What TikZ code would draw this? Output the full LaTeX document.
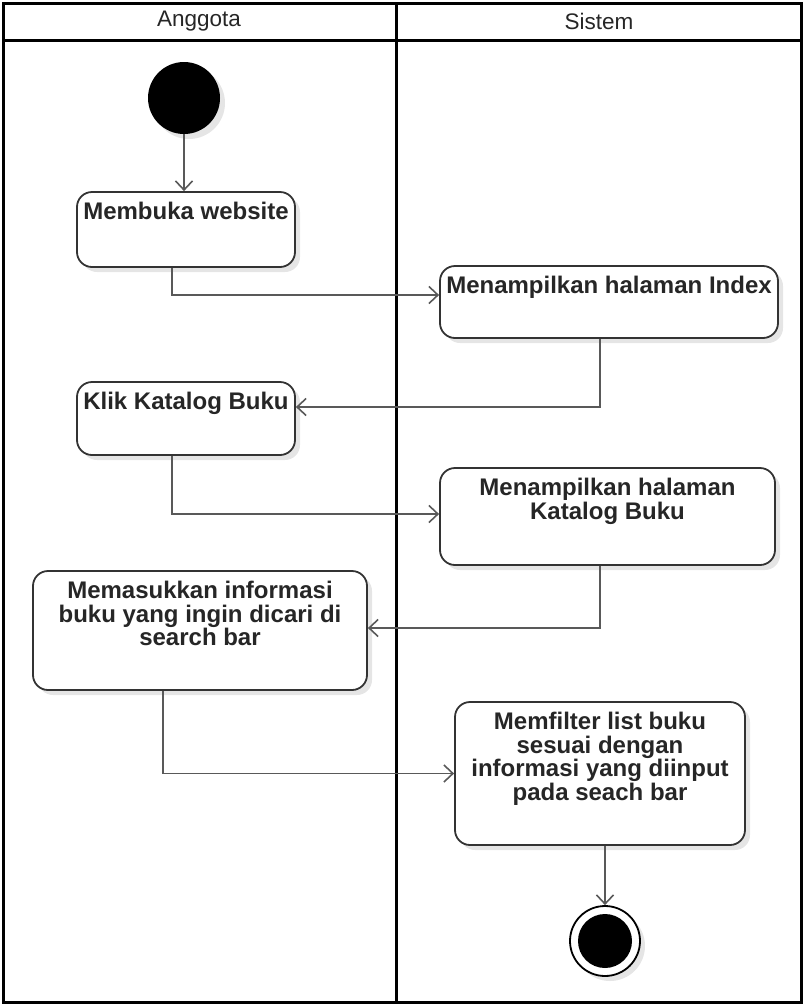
\documentclass[tikz,border=0pt]{standalone}
\usepackage{fontspec}
\setmainfont{Liberation Sans}
\usetikzlibrary{positioning, arrows.meta, shadows}

\begin{document}
\begin{tikzpicture}[
        x=1pt, y=-1pt,
        >={Straight Barb[length=9pt, width=17pt, line width=1.6pt]},
        lane/.style={line width=3pt, draw=black},
        title/.style={font=\fontsize{22.5}{26}\selectfont, text=black!85},
        activity/.style={rectangle, rounded corners=15pt, draw=black!80, line width=1.8pt, fill=white,
            drop shadow={shadow xshift=5pt, shadow yshift=-5pt, fill=black!10, opacity=1}},
        caption/.style={anchor=north, yshift=-11pt, align=center, inner sep=0pt,
            font=\bfseries\fontsize{24}{23.5}\selectfont, text=black!85},
        wire/.style={draw=black!65, line width=1.8pt, ->},
        startnode/.style={circle, fill=black, minimum size=72pt, inner sep=0pt,
            drop shadow={shadow xshift=5pt, shadow yshift=-5pt, fill=black!10, opacity=1}},
        endnode/.style={circle, draw=black, line width=1.8pt, fill=white, minimum size=70pt, inner sep=0pt,
            drop shadow={shadow xshift=5pt, shadow yshift=-5pt, fill=black!10, opacity=1},
            path picture={\fill[black] (path picture bounding box.center) circle (27pt);}},
    ]
    \useasboundingbox (0,0) rectangle (804,1005);

    % Draw the swimlanes
    \draw[lane] (3,3) rectangle (801,1002);
    \draw[lane] (3,40) -- (801,40);
    \draw[lane] (396,3) -- (396,1002);
    \node[title] (anggota) at (199,21) {Anggota};
    \node[title] (sistem) at (599,21) {Sistem};

    % Draw the start and end points
    \node[startnode] (start) at (184,98) {};
    \node[endnode] (end) at (605,941) {};

    % Draw the activities
    \node[activity, minimum width=218pt, minimum height=75pt,
        label={[caption]north:Membuka website}] (buka) at (186,229.5) {};
    \node[activity, minimum width=338pt, minimum height=72pt,
        label={[caption]north:Menampilkan halaman Index}] (index) at (609,302) {};
    \node[activity, minimum width=218pt, minimum height=73pt,
        label={[caption]north:Klik Katalog Buku}] (klik) at (186,418.5) {};
    \node[activity, minimum width=335pt, minimum height=97pt,
        label={[caption]north:Menampilkan halaman\\Katalog Buku}] (katalog) at (607.5,516.5) {};
    \node[activity, minimum width=334pt, minimum height=119pt,
        label={[caption]north:Memasukkan informasi\\buku yang ingin dicari di\\search bar}] (masuk) at (200,630.5) {};
    \node[activity, minimum width=290pt, minimum height=143pt,
        label={[caption]north:Memfilter list buku\\sesuai dengan\\informasi yang diinput\\pada seach bar}] (filter) at (600,773.5) {};

    % Connect the activities
    \draw[wire] (start) -- (start |- buka.north);
    \draw[wire] ([xshift=-14pt]buka.south) |- ([yshift=7pt]index.west);
    \draw[wire] ([xshift=-9pt]index.south) |- ([yshift=11.5pt]klik.east);
    \draw[wire] ([xshift=-14pt]klik.south) |- ([yshift=2.5pt]katalog.west);
    \draw[wire] ([xshift=-7.5pt]katalog.south) |- ([yshift=2.5pt]masuk.east);
    \draw[wire] ([xshift=-37pt]masuk.south) |- (filter.west);
    \draw[wire] (filter.south -| end) -- (end);
\end{tikzpicture}
\end{document}
